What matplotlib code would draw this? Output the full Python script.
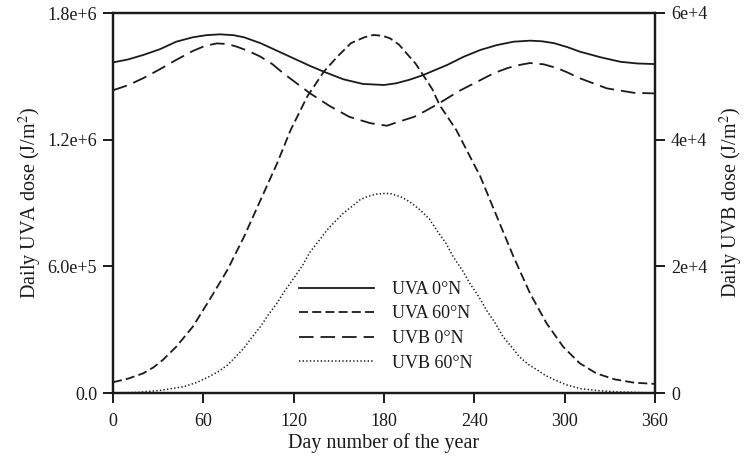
import matplotlib
matplotlib.use("Agg")
import matplotlib.pyplot as plt

plt.rcParams['font.family'] = ['Liberation Serif', 'DejaVu Serif']
plt.rcParams['mathtext.fontset'] = 'stix'
plt.rcParams['lines.scale_dashes'] = False

# UVA 0°N (left axis, J/m^2)
uva0_day = [0, 10, 20, 31, 42, 53, 62, 71, 80, 87, 98, 109, 120, 131, 140, 153, 166, 180, 188, 197, 206, 214, 222, 233, 244, 255, 266, 277, 285, 293, 302, 310, 324, 337, 348, 360]
uva0_val = [1.566e6, 1.580e6, 1.601e6, 1.628e6, 1.664e6, 1.685e6, 1.695e6, 1.699e6, 1.695e6, 1.685e6, 1.657e6, 1.621e6, 1.585e6, 1.549e6, 1.522e6, 1.486e6, 1.464e6, 1.459e6, 1.467e6, 1.484e6, 1.506e6, 1.530e6, 1.554e6, 1.593e6, 1.625e6, 1.648e6, 1.664e6, 1.669e6, 1.666e6, 1.657e6, 1.638e6, 1.617e6, 1.590e6, 1.569e6, 1.561e6, 1.558e6]

# UVA 60°N (left axis, J/m^2)
uva60_day = [0, 10, 20, 27, 33, 42, 53, 64, 76, 87, 98, 109, 118, 129, 140, 149, 158, 167, 173, 179, 184, 190, 195, 201, 206, 212, 217, 228, 244, 255, 266, 277, 288, 299, 310, 321, 333, 346, 360]
uva60_val = [0.051e6, 0.068e6, 0.093e6, 0.122e6, 0.156e6, 0.219e6, 0.314e6, 0.440e6, 0.583e6, 0.740e6, 0.914e6, 1.088e6, 1.246e6, 1.404e6, 1.522e6, 1.593e6, 1.657e6, 1.685e6, 1.696e6, 1.692e6, 1.680e6, 1.650e6, 1.609e6, 1.560e6, 1.506e6, 1.440e6, 1.363e6, 1.246e6, 1.025e6, 0.835e6, 0.646e6, 0.472e6, 0.330e6, 0.219e6, 0.141e6, 0.093e6, 0.065e6, 0.049e6, 0.043e6]

# UVB 0°N (right axis, J/m^2)
uvb0_day = [0, 10, 20, 31, 42, 53, 61, 69, 76, 82, 90, 98, 106, 113, 122, 131, 144, 157, 171, 182, 188, 200, 208, 217, 230, 244, 253, 262, 270, 277, 286, 295, 302, 310, 328, 346, 360]
uvb0_val = [4.78e4, 4.86e4, 4.97e4, 5.11e4, 5.26e4, 5.40e4, 5.48e4, 5.52e4, 5.51e4, 5.47e4, 5.40e4, 5.31e4, 5.19e4, 5.05e4, 4.89e4, 4.73e4, 4.53e4, 4.36e4, 4.26e4, 4.22e4, 4.27e4, 4.36e4, 4.46e4, 4.58e4, 4.77e4, 4.94e4, 5.05e4, 5.13e4, 5.18e4, 5.21e4, 5.19e4, 5.13e4, 5.06e4, 4.97e4, 4.81e4, 4.74e4, 4.73e4]

# UVB 60°N (right axis, J/m^2)
uvb60_day = [0, 16, 31, 47, 56, 64, 70, 76, 81, 87, 92, 98, 103, 109, 114, 120, 126, 131, 137, 142, 148, 153, 159, 164, 170, 175, 180, 184, 191, 197, 204, 210, 215, 221, 226, 232, 237, 243, 248, 254, 259, 265, 270, 276, 282, 287, 293, 301, 310, 321, 333, 346, 360]
uvb60_val = [0.0e4, 0.01e4, 0.04e4, 0.10e4, 0.17e4, 0.26e4, 0.34e4, 0.44e4, 0.56e4, 0.71e4, 0.87e4, 1.05e4, 1.23e4, 1.42e4, 1.61e4, 1.81e4, 2.02e4, 2.23e4, 2.41e4, 2.57e4, 2.72e4, 2.84e4, 2.95e4, 3.05e4, 3.11e4, 3.14e4, 3.15e4, 3.15e4, 3.10e4, 3.02e4, 2.89e4, 2.75e4, 2.57e4, 2.37e4, 2.15e4, 1.94e4, 1.73e4, 1.52e4, 1.31e4, 1.10e4, 0.89e4, 0.72e4, 0.57e4, 0.45e4, 0.36e4, 0.28e4, 0.21e4, 0.13e4, 0.07e4, 0.04e4, 0.02e4, 0.01e4, 0.0e4]

x_ticks = [0, 60, 120, 180, 240, 300, 360]
left_ticks = [0, 6e5, 1.2e6, 1.8e6]
left_labels = ["0.0", "6.0e+5", "1.2e+6", "1.8e+6"]
right_ticks = [0, 2e4, 4e4, 6e4]
right_labels = ["0", "2e+4", "4e+4", "6e+4"]

fig = plt.figure(figsize=(7.48, 4.62), dpi=100)
ax = fig.add_axes([113/748, 1-393/462, 542/748, 380/462])
ax2 = ax.twinx()

lw = 1.3
col = '#1a1a1a'
l1, = ax.plot(uva0_day, uva0_val, color=col, lw=lw, label='UVA 0°N')
l2, = ax.plot(uva60_day, uva60_val, color=col, lw=lw, dashes=(6.5, 3.0), label='UVA 60°N')
l3, = ax2.plot(uvb0_day, uvb0_val, color=col, lw=lw, dashes=(10.5, 5.0), label='UVB 0°N')
l4, = ax2.plot(uvb60_day, uvb60_val, color=col, lw=1.1, dashes=(1.0, 1.6), label='UVB 60°N')

ax.set_xlim(0, 360)
ax.set_ylim(0, 1.8e6)
ax2.set_ylim(0, 6e4)
ax.set_xticks(x_ticks)
ax.set_xticklabels([str(t) for t in x_ticks])
ax.set_yticks(left_ticks)
ax.set_yticklabels(left_labels)
ax2.set_yticks(right_ticks)
ax2.set_yticklabels(right_labels)

for a in (ax, ax2):
    for s in a.spines.values():
        s.set_linewidth(1.6)
        s.set_color(col)
ax.tick_params(axis='both', direction='out', length=7.5, width=1.4, labelsize=13, colors=col, pad=4)
ax.tick_params(axis='x', pad=7)
ax2.tick_params(axis='y', direction='out', length=7.5, width=1.4, labelsize=13, colors=col, pad=4)

ax.set_xlabel('Day number of the year', fontsize=14.5, color=col, labelpad=2)
ax.set_ylabel('Daily UVA dose (J/m$^2$)', fontsize=14.5, color=col, labelpad=2)
ax2.set_ylabel('Daily UVB dose (J/m$^2$)', fontsize=14.5, color=col, labelpad=8)

leg = ax.legend(handles=[l1, l2, l3, l4], loc='upper left', bbox_to_anchor=(0.343, 0.295),
                frameon=False, fontsize=13, handlelength=4.15, handletextpad=1.0,
                labelspacing=0.42, borderpad=0, borderaxespad=0)
for t in leg.get_texts():
    t.set_color(col)

fig.savefig('out.png', dpi=100)
